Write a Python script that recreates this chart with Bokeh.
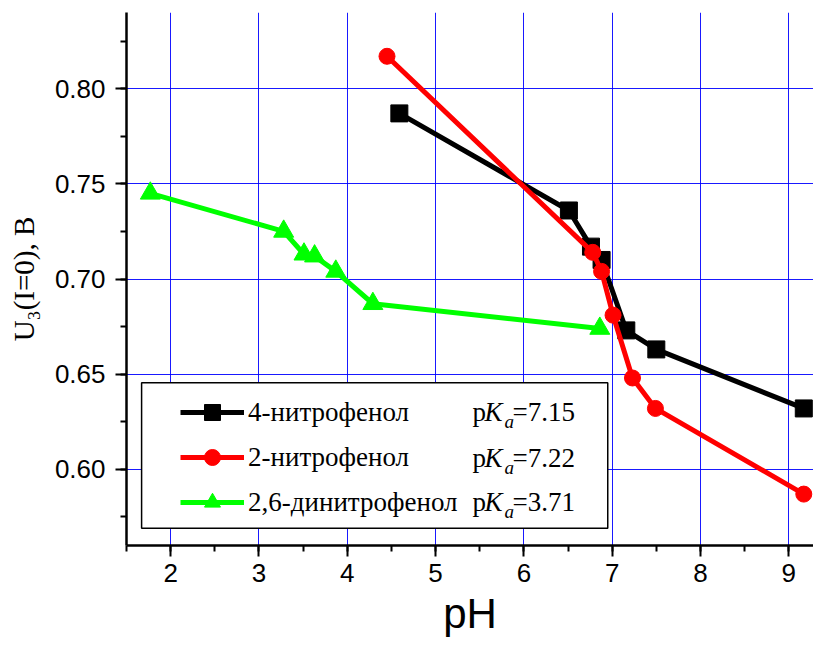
from bokeh.plotting import figure
from bokeh.models import (Range1d, SingleIntervalTicker, NumeralTickFormatter,
                          Legend, LegendItem, Label, BoxAnnotation)
from bokeh.embed import file_html
from bokeh.resources import INLINE

# ---- data ----
ph_4np = [4.59, 6.51, 6.76, 6.88, 7.16, 7.50, 9.17]
u_4np = [0.787, 0.736, 0.717, 0.710, 0.673, 0.663, 0.632]
ph_2np = [4.45, 6.78, 6.88, 7.01, 7.23, 7.49, 9.17]
u_2np = [0.817, 0.714, 0.704, 0.681, 0.648, 0.632, 0.587]
ph_26dnp = [1.77, 3.28, 3.51, 3.63, 3.87, 4.29, 6.86]
u_26dnp = [0.745, 0.725, 0.713, 0.712, 0.704, 0.687, 0.674]
names = ["4-нитрофенол", "2-нитрофенол", "2,6-динитрофенол"]
pka_values = ["7.15", "7.22", "3.71"]
colors = ["#000000", "#ff0000", "#00ff00"]
markers = ["square", "circle", "triangle"]

p = figure(width=813, height=645, output_backend="svg", toolbar_location=None,
           x_range=Range1d(1.5, 9.28), y_range=Range1d(0.56, 0.84),
           min_border_left=126, min_border_right=0, min_border_top=12,
           min_border_bottom=100)
p.outline_line_color = None
p.background_fill_color = "white"
p.border_fill_color = "white"

# axes
p.xaxis.ticker = SingleIntervalTicker(interval=1, num_minor_ticks=2)
p.yaxis.ticker = SingleIntervalTicker(interval=0.05, num_minor_ticks=2)
p.yaxis.formatter = NumeralTickFormatter(format="0.00")
for ax in (p.xaxis[0], p.yaxis[0]):
    ax.axis_line_width = 2.5
    ax.axis_line_color = "black"
    ax.major_tick_line_width = 2
    ax.minor_tick_line_width = 2
    ax.major_tick_out = 11
    ax.major_tick_in = 0
    ax.minor_tick_out = 6
    ax.minor_tick_in = 0
    ax.major_label_text_font = "Liberation Sans"
    ax.major_label_text_font_size = "26px"
    ax.major_label_text_color = "black"
    ax.axis_label_text_color = "black"
p.xaxis.major_label_standoff = 7
p.yaxis.major_label_standoff = 10
p.xaxis.axis_label = "pH"
p.xaxis.axis_label_text_font = "Liberation Sans"
p.xaxis.axis_label_text_font_size = "42px"
p.xaxis.axis_label_text_font_style = "normal"
p.xaxis.axis_label_standoff = 5
p.yaxis.axis_label = "U₃(I=0), В"
p.yaxis.axis_label_text_font = "Liberation Serif"
p.yaxis.axis_label_text_font_size = "29px"
p.yaxis.axis_label_text_font_style = "normal"
p.yaxis.axis_label_standoff = 12

# grid
for g in (p.xgrid[0], p.ygrid[0]):
    g.grid_line_color = "#0000ff"
    g.grid_line_alpha = 0.9
    g.grid_line_width = 1

# legend frame (white box covering grid)
box = BoxAnnotation(left=1.671, right=6.95, top=0.6455, bottom=0.5691,
                    fill_color="white", fill_alpha=1.0,
                    line_color="black", line_alpha=1.0, line_width=1.5,
                    level="underlay")
p.add_layout(box)

series = [(ph_4np, u_4np), (ph_2np, u_2np), (ph_26dnp, u_26dnp)]
items = []
for (xs, ys), name, c, m in zip(series, names, colors, markers):
    lr = p.line(xs, ys, line_color=c, line_width=5)
    size = 17 if m == "square" else (16 if m == "circle" else 20)
    sr = p.scatter(xs, ys, marker=m, size=size, fill_color=c, line_color=c)
    items.append(LegendItem(label=name, renderers=[lr, sr]))

legend = Legend(items=items, location=(54, 23), padding=0, margin=0,
                glyph_width=64, glyph_height=40, label_height=40, spacing=5,
                label_standoff=4, label_text_font="Liberation Serif",
                label_text_font_size="27px", label_text_color="black",
                background_fill_alpha=0, border_line_alpha=0)
p.add_layout(legend, "center")

# pKa annotations
pka_y = [0.6299, 0.6062, 0.5826]
for yv, val in zip(pka_y, pka_values):
    p.add_layout(Label(x=5.417, y=yv, text="p", text_font="Liberation Serif",
                       text_font_size="27px", text_baseline="middle",
                       text_color="black"))
    p.add_layout(Label(x=5.553, y=yv, text="K", text_font="Liberation Serif",
                       text_font_size="27px", text_font_style="italic",
                       text_baseline="middle", text_color="black"))
    p.add_layout(Label(x=5.78, y=yv - 0.0050, text="a", text_font="Liberation Serif",
                       text_font_size="19px", text_font_style="italic",
                       text_baseline="middle", text_color="black"))
    p.add_layout(Label(x=5.871, y=yv, text="=" + val, text_font="Liberation Serif",
                       text_font_size="27px", text_baseline="middle",
                       text_color="black"))

open("out.html", "w").write(file_html(p, INLINE))
